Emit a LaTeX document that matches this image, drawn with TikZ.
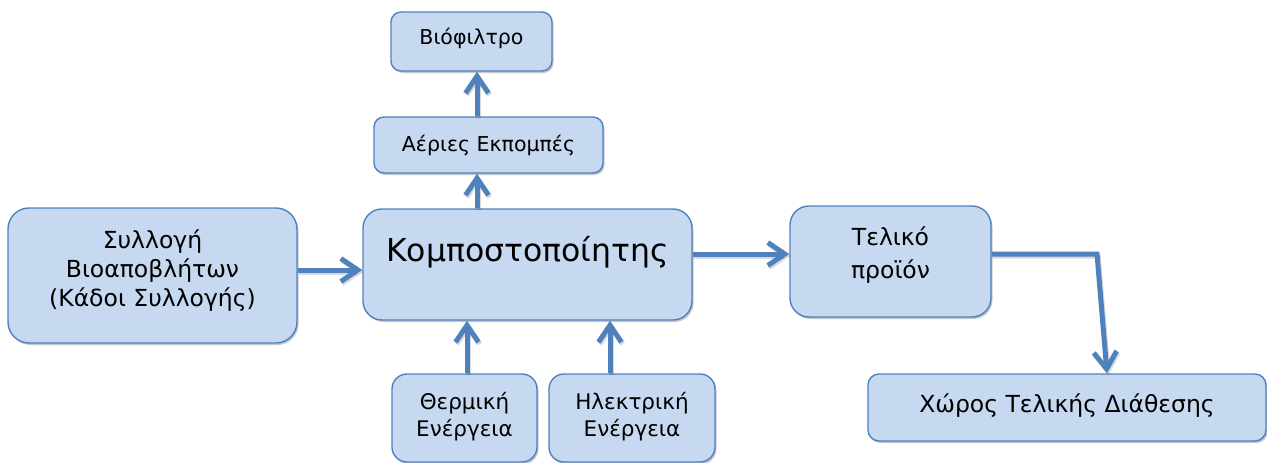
\documentclass[tikz,border=0pt]{standalone}
\usepackage{fontspec}
\setmainfont{DejaVu Sans}
\usetikzlibrary{arrows.meta,shadows}

\definecolor{boxfill}{RGB}{198,217,241}
\definecolor{boxline}{RGB}{79,129,189}
\definecolor{flow}{RGB}{79,129,189}

\tikzset{
  box/.style={draw=boxline, line width=1.4pt, fill=boxfill, inner sep=0pt,
    align=center, text=black,
    drop shadow={shadow xshift=1.5pt, shadow yshift=-2pt, fill=black, opacity=0.22}},
  flowarrow/.style={draw=flow, line width=5pt, line join=miter,
    -{Straight Barb[length=17pt, width=23pt, line width=5pt]},
    preaction={draw=black, opacity=0.15, line width=5pt,
      transform canvas={xshift=1.2pt, yshift=-2pt}}},
  fs/.style={font=\fontsize{#1}{#1}\selectfont}
}

\begin{document}
\begin{tikzpicture}[x=1pt, y=-1pt]
\useasboundingbox (0,0) rectangle (1267,463);

% boxes
\node[box, rounded corners=21pt, minimum width=289pt, minimum height=135pt,
      font=\fontsize{23.5}{29}\selectfont, text depth=15pt]
  (src) at (152.5,275.5) {Συλλογή\\Βιοαποβλήτων\\(Κάδοι Συλλογής)};
\node[box, rounded corners=19pt, minimum width=329pt, minimum height=111pt,
      font=\fontsize{31.5}{36}\selectfont, text height=24pt, text depth=31pt]
  (komp) at (527.5,264.5) {Κομποστοποίητης};
\node[box, rounded corners=10pt, minimum width=229pt, minimum height=56pt,
      fs=20.5]
  (aer) at (488.5,145) {Αέριες Εκπομπές};
\node[box, rounded corners=10pt, minimum width=161pt, minimum height=59pt,
      fs=20.5, text height=15pt, text depth=8pt]
  (vio) at (471.5,41.5) {Βιόφιλτρο};
\node[box, rounded corners=19pt, minimum width=201pt, minimum height=111pt,
      font=\fontsize{23.5}{33}\selectfont, text depth=18pt]
  (tel) at (890.5,261.5) {Τελικό\\προϊόν};
\node[box, rounded corners=11pt, minimum width=398pt, minimum height=67pt,
      fs=23.5, text height=14pt, text depth=4pt]
  (chw) at (1067,407.5) {Χώρος Τελικής Διάθεσης};
\node[box, rounded corners=15pt, minimum width=145pt, minimum height=88pt,
      font=\fontsize{21.5}{27}\selectfont, text depth=8pt]
  (therm) at (464.5,418) {Θερμική\\Ενέργεια};
\node[box, rounded corners=15pt, minimum width=166pt, minimum height=88pt,
      font=\fontsize{21.5}{27}\selectfont, text depth=8pt]
  (ilek) at (632,418) {Ηλεκτρική\\Ενέργεια};

% bend point of the route to the disposal site
\coordinate (bend) at (1097,254);

% connectors
\draw[flowarrow] (src.east |- 0,270) -- (komp.west |- 0,270);
\draw[flowarrow] (komp.east |- 0,254) -- (tel.west |- 0,254);
\draw[flowarrow] (komp.north -| 477,0) -- (aer.south -| 477,0);
\draw[flowarrow] (aer.north -| 477,0) -- (vio.south -| 477,0);
\draw[flowarrow] (therm.north -| 467,0) -- (komp.south -| 467,0);
\draw[flowarrow] (ilek.north -| 610,0) -- (komp.south -| 610,0);
\draw[flowarrow] (tel.east |- bend) -- (bend) -- (chw.north -| 1107,0);
\end{tikzpicture}
\end{document}
